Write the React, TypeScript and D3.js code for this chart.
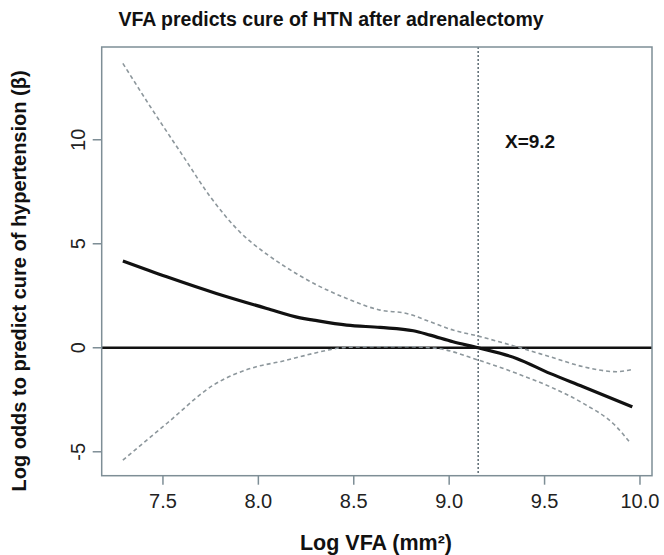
import React from "react";
import * as d3 from "d3";

const xTicks = [7.5, 8.0, 8.5, 9.0, 9.5, 10.0];
const yTicks = [-5, 0, 5, 10];

const fitX = [7.29, 7.52, 7.78, 8.044, 8.219, 8.289, 8.463, 8.638, 8.812, 8.9, 9.02, 9.152, 9.353, 9.528, 9.702, 9.96];
const fitY = [4.17, 3.41, 2.61, 1.89, 1.44, 1.33, 1.09, 0.98, 0.82, 0.61, 0.29, 0.0, -0.51, -1.23, -1.87, -2.84];

const upperX = [7.29, 7.434, 7.608, 7.748, 7.905, 8.044, 8.14, 8.289, 8.463, 8.638, 8.777, 8.9, 9.02, 9.152, 9.353, 9.528, 9.702, 9.877, 9.96];
const upperY = [13.67, 11.59, 9.18, 7.26, 5.55, 4.5, 3.9, 3.1, 2.37, 1.81, 1.65, 1.25, 0.85, 0.56, 0.05, -0.43, -0.91, -1.15, -1.04];

const lowerX = [7.29, 7.52, 7.765, 7.99, 8.114, 8.219, 8.289, 8.463, 8.638, 8.777, 8.935, 9.152, 9.353, 9.528, 9.702, 9.877, 9.947];
const lowerY = [-5.4, -3.64, -1.79, -0.91, -0.67, -0.43, -0.27, 0.02, 0.05, 0.05, -0.03, -0.59, -1.23, -1.87, -2.67, -3.8, -4.55];

const cutoff = 9.152;
const cutoffLabel = "X=9.2";
const title = "VFA predicts cure of HTN after adrenalectomy";
const xTitle = "Log VFA (mm²)";
const yTitle = "Log odds to predict cure of hypertension (β)";

export default function App() {
  const left = 101.7, right = 652, top = 47, bottom = 475.7;
  const x = d3.scaleLinear().domain([7.179, 10.063]).range([left, right]);
  const y = d3.scaleLinear().domain([-6.15, 14.46]).range([bottom, top]);
  const line = d3
    .line<[number, number]>()
    .x((d) => x(d[0]))
    .y((d) => y(d[1]))
    .curve(d3.curveMonotoneX);
  const fit = line(fitX.map((v, i) => [v, fitY[i]]) as [number, number][]) || "";
  const up = line(upperX.map((v, i) => [v, upperY[i]]) as [number, number][]) || "";
  const lo = line(lowerX.map((v, i) => [v, lowerY[i]]) as [number, number][]) || "";
  const axisColor = "#7e8e96";
  const font = "Liberation Sans, Arial, sans-serif";

  return (
    <svg
      width={664}
      height={555}
      style={{ position: "absolute", left: 0, top: 0, background: "#fff" }}
      fontFamily={font}
    >
      <rect x={0} y={0} width={664} height={555} fill="#fff" />
      <text x={331} y={26} textAnchor="middle" fontWeight="bold" fontSize={19.5} fill="#111">
        {title}
      </text>
      <line x1={left} x2={right} y1={y(0)} y2={y(0)} stroke="#111" strokeWidth={2.5} />
      <line x1={x(cutoff)} x2={x(cutoff)} y1={top} y2={bottom} stroke="#4f5f68" strokeWidth={1.4} strokeDasharray="2,2" />
      <text x={505} y={148} fontWeight="bold" fontSize={19} fill="#111">
        {cutoffLabel}
      </text>
      <path d={up} fill="none" stroke="#8d979c" strokeWidth={1.6} strokeDasharray="4,3" />
      <path d={lo} fill="none" stroke="#8d979c" strokeWidth={1.6} strokeDasharray="4,3" />
      <path d={fit} fill="none" stroke="#111" strokeWidth={3.2} />
      <rect x={left} y={top} width={right - left} height={bottom - top} fill="none" stroke={axisColor} strokeWidth={1.5} />
      {xTicks.map((t) => (
        <g key={"x" + t}>
          <line x1={x(t)} x2={x(t)} y1={bottom} y2={bottom + 9} stroke={axisColor} strokeWidth={1.5} />
          <text x={x(t)} y={508} textAnchor="middle" fontSize={20} fill="#222">
            {t.toFixed(1)}
          </text>
        </g>
      ))}
      {yTicks.map((t) => (
        <g key={"y" + t}>
          <line x1={left - 9} x2={left} y1={y(t)} y2={y(t)} stroke={axisColor} strokeWidth={1.5} />
          <text
            transform={`translate(84.5,${y(t)}) rotate(-90)`}
            textAnchor="middle"
            fontSize={20}
            fill="#222"
          >
            {String(t)}
          </text>
        </g>
      ))}
      <text x={376} y={550} textAnchor="middle" fontWeight="bold" fontSize={21.5} fill="#111">
        {xTitle}
      </text>
      <text
        transform={`translate(26,281) rotate(-90)`}
        textAnchor="middle"
        fontWeight="bold"
        fontSize={20}
        fill="#111"
      >
        {yTitle}
      </text>
    </svg>
  );
}
